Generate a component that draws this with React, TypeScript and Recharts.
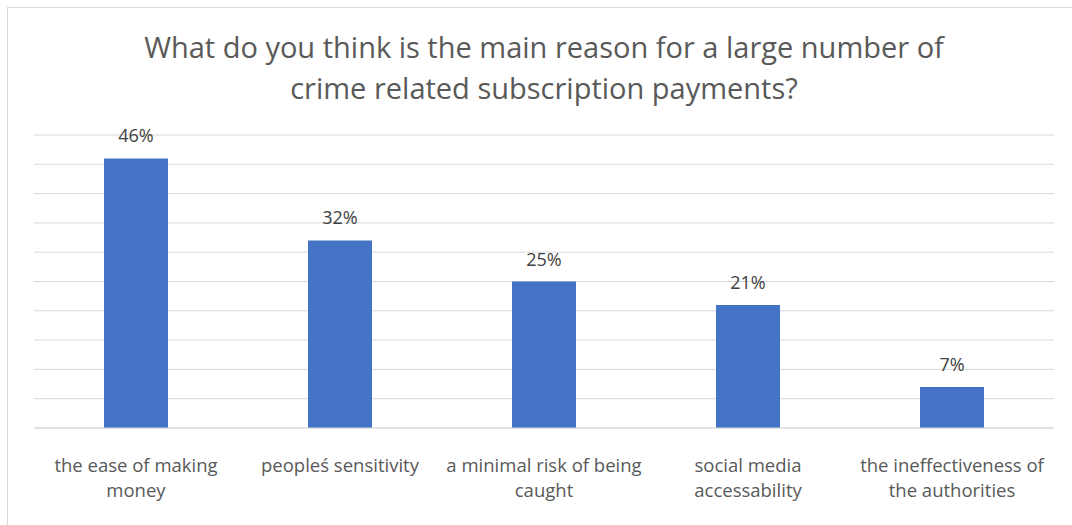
import React from "react";
import { BarChart, Bar, XAxis, YAxis, CartesianGrid, LabelList } from "recharts";

const categories = [
  "the ease of making\nmoney",
  "peopleś sensitivity",
  "a minimal risk of being\ncaught",
  "social media\naccessability",
  "the ineffectiveness of\nthe authorities",
];
const shares = [46, 32, 25, 21, 7];
const gridTicks = [0, 5, 10, 15, 20, 25, 30, 35, 40, 45, 50];

const data = categories.map((name, i) => ({ name, value: shares[i] }));

const FONT = "'Open Sans', sans-serif";

const WrappedTick = (props: any) => {
  const { x, y, payload } = props;
  const lines = String(payload.value).split("\n");
  return (
    <text x={x} y={y} textAnchor="middle" fill="#595959" fontSize={18.5} fontFamily={FONT}>
      {lines.map((line, i) => (
        <tspan key={i} x={x} dy={i === 0 ? 36 : 25}>
          {line}
        </tspan>
      ))}
    </text>
  );
};

const App: React.FC = () => {
  return (
    <div
      style={{
        position: "absolute",
        left: 7,
        top: 7,
        width: 1070,
        height: 530,
        border: "1px solid #d9d9d9",
        background: "#fff",
        fontFamily: FONT,
      }}
    >
      <style>{"body{margin:0;overflow:hidden}"}</style>
      <div
        style={{
          position: "absolute",
          left: 26,
          width: 1020,
          top: 18,
          textAlign: "center",
          fontSize: 29,
          lineHeight: "41px",
          color: "#595959",
        }}
      >
        What do you think is the main reason for a large number of
        <br />
        crime related subscription payments?
      </div>
      <BarChart
        width={1064}
        height={517}
        data={data}
        margin={{ top: 127, right: 18, bottom: 27, left: 26 }}
        barSize={64}
      >
        <CartesianGrid vertical={false} stroke="#d9d9d9" strokeWidth={1} />
        <YAxis hide domain={[0, 50]} ticks={gridTicks} />
        <XAxis
          dataKey="name"
          axisLine={{ stroke: "#d9d9d9" }}
          tickLine={false}
          tick={<WrappedTick />}
          interval={0}
          height={70}
        />
        <Bar dataKey="value" fill="#4472C4" isAnimationActive={false}>
          <LabelList
            dataKey="value"
            position="top"
            offset={16}
            formatter={(v: any) => `${v}%`}
            fill="#404040"
            fontSize={18}
            fontFamily={FONT}
          />
        </Bar>
      </BarChart>
    </div>
  );
};

export default App;
